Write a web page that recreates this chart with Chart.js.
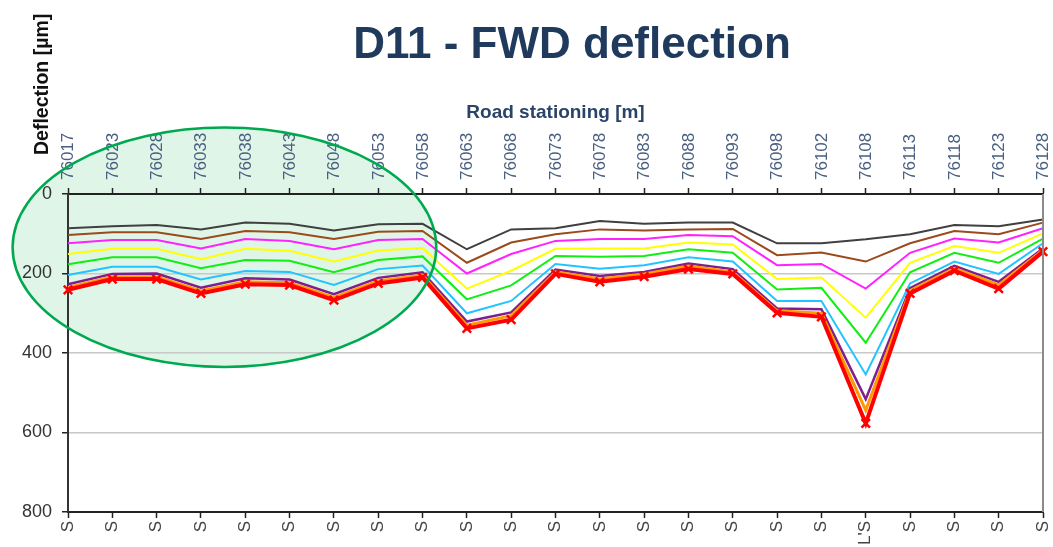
<!DOCTYPE html>
<html>
<head>
<meta charset="utf-8">
<script src="https://cdn.jsdelivr.net/npm/chart.js@4/dist/chart.umd.min.js"></script>
<style>
    body { margin: 0; background: #fff; }
    .chart-wrap { width: 1053px; height: 547px; }
</style>
</head>
<body>
<div class="chart-wrap"><canvas id="fwdChart"></canvas></div>
<script>
// stations along the road (top axis) and point type (bottom axis)
let stations = ["76017", "76023", "76028", "76033", "76038", "76043", "76048", "76053", "76058", "76063", "76068",
    "76073", "76078", "76083", "76088", "76093", "76098", "76102", "76108", "76113", "76118", "76123", "76128"]
let pointTypes = ["S", "S", "S", "S", "S", "S", "S", "S", "S", "S", "S",
    "S", "S", "S", "S", "S", "S", "S", "L'S", "S", "S", "S", "S"]
let yTicks = [0, 200, 400, 600, 800]

// deflection per sensor [µm]
let greyLine = [86, 81, 78, 89, 72, 75, 92, 76, 75, 139, 89, 86, 68, 75, 72, 72, 124, 124, 114, 101, 78, 81, 64]
let brownLine = [103, 96, 96, 113, 93, 96, 113, 95, 93, 173, 122, 101, 89, 92, 89, 88, 154, 147, 170, 124, 93, 101, 72]
let magentaLine = [124, 116, 116, 137, 113, 118, 139, 116, 113, 200, 151, 118, 113, 113, 103, 106, 179, 176, 238, 148, 112, 122, 86]
let yellowLine = [151, 138, 138, 164, 138, 143, 170, 142, 136, 238, 193, 138, 137, 137, 122, 127, 214, 210, 311, 173, 131, 148, 99]
let greenLine = [177, 159, 159, 187, 166, 168, 197, 166, 157, 265, 230, 156, 158, 156, 139, 148, 240, 236, 374, 197, 148, 173, 112]
let cyanLine = [204, 183, 183, 215, 194, 196, 229, 189, 180, 300, 269, 176, 188, 179, 159, 170, 269, 269, 454, 225, 170, 201, 124]
let purpleLine = [227, 201, 200, 236, 212, 215, 252, 211, 197, 321, 298, 190, 206, 196, 175, 189, 288, 290, 516, 237, 181, 221, 137]
let orangeLine = [235, 208, 208, 244, 221, 223, 260, 219, 204, 330, 306, 196, 214, 201, 181, 196, 294, 300, 544, 243, 187, 229, 141]
let redLine = [241, 214, 214, 250, 227, 229, 267, 225, 210, 338, 316, 201, 221, 208, 189, 201, 299, 309, 577, 250, 193, 238, 145]

// green highlight ellipse, in axis units (category index / µm)
let highlight = { centerIndex: 3.53, centerValue: 134, halfWidth: 4.78, halfHeight: 301 }

let series = [
    { data: greyLine, color: '#404040', width: 2 },
    { data: brownLine, color: '#9a4a1c', width: 2 },
    { data: magentaLine, color: '#ff22ff', width: 2 },
    { data: yellowLine, color: '#ffff00', width: 2 },
    { data: greenLine, color: '#11ee11', width: 2 },
    { data: cyanLine, color: '#22c4ff', width: 2 },
    { data: purpleLine, color: '#7f1f8f', width: 2.5 },
    { data: orangeLine, color: '#ff9900', width: 3 },
    { data: redLine, color: '#ff0000', width: 4, marks: true }
]

let font = "'Liberation Sans', Arial, sans-serif"

let ellipseAt = (chart) => {
    let x = chart.scales.x
    let y = chart.scales.y
    let step = x.getPixelForValue(1) - x.getPixelForValue(0)
    return {
        cx: x.getPixelForValue(highlight.centerIndex),
        cy: y.getPixelForValue(highlight.centerValue),
        rx: highlight.halfWidth * step,
        ry: y.getPixelForValue(highlight.halfHeight) - y.getPixelForValue(0)
    }
}

let decor = {
    id: 'decor',
    beforeDraw(chart) {
        let ctx = chart.ctx
        let e = ellipseAt(chart)
        ctx.save()
        ctx.beginPath()
        ctx.ellipse(e.cx, e.cy, e.rx, e.ry, 0, 0, Math.PI * 2)
        ctx.fillStyle = 'rgba(0, 176, 80, 0.13)'
        ctx.fill()
        ctx.restore()
    },
    afterDraw(chart) {
        let ctx = chart.ctx
        let area = chart.chartArea
        let e = ellipseAt(chart)
        ctx.save()
        ctx.beginPath()
        ctx.ellipse(e.cx, e.cy, e.rx, e.ry, 0, 0, Math.PI * 2)
        ctx.strokeStyle = '#00a94f'
        ctx.lineWidth = 2.5
        ctx.stroke()

        // right frame line
        ctx.beginPath()
        ctx.moveTo(area.right, area.top)
        ctx.lineTo(area.right, area.bottom)
        ctx.strokeStyle = '#8a8a8a'
        ctx.lineWidth = 2
        ctx.stroke()

        // main title
        ctx.fillStyle = '#1f3a5c'
        ctx.font = 'bold 44px ' + font
        ctx.textAlign = 'center'
        ctx.textBaseline = 'middle'
        ctx.fillText('D11 - FWD deflection', 572, 46)

        // y axis title, top left corner
        ctx.translate(43, 155)
        ctx.rotate(-Math.PI / 2)
        ctx.fillStyle = '#111'
        ctx.font = 'bold 19.5px ' + font
        ctx.textAlign = 'left'
        ctx.fillText('Deflection [µm]', 0, 0)
        ctx.restore()
    }
}

let noSidePadding = (s) => {
    s.paddingLeft = 0
    s.paddingRight = 0
}

new Chart('fwdChart', {
    type: 'line',
    data: {
        labels: stations,
        datasets: series.map((s, i) => ({
            data: s.data,
            borderColor: s.color,
            backgroundColor: s.color,
            borderWidth: s.width,
            tension: 0,
            fill: false,
            order: series.length - i,
            pointRadius: s.marks ? 6 : 0,
            pointStyle: 'crossRot',
            pointBorderWidth: 2.5,
            pointBorderColor: s.color
        }))
    },
    options: {
        responsive: true,
        maintainAspectRatio: false,
        animation: false,
        layout: { padding: { top: 70, right: 10, left: 0, bottom: 0 } },
        plugins: {
            legend: { display: false },
            tooltip: { enabled: false },
            title: { display: false }
        },
        scales: {
            x: {
                type: 'category',
                position: 'top',
                offset: false,
                afterFit: (s) => { s.height = 124; noSidePadding(s) },
                title: {
                    display: true,
                    text: 'Road stationing [m]',
                    color: '#2a4468',
                    font: { family: font, size: 19, weight: 'bold' },
                    padding: { top: 31, bottom: 0 }
                },
                ticks: {
                    autoSkip: false,
                    minRotation: 90,
                    maxRotation: 90,
                    padding: 8,
                    labelOffset: 21,
                    color: '#4a6080',
                    font: { family: font, size: 17 }
                },
                grid: { drawOnChartArea: false, tickLength: 6, tickColor: '#222', tickWidth: 1.5 },
                border: { color: '#222', width: 2 }
            },
            x2: {
                type: 'category',
                position: 'bottom',
                labels: pointTypes,
                offset: false,
                afterFit: (s) => { s.height = 35; noSidePadding(s) },
                ticks: {
                    autoSkip: false,
                    minRotation: 90,
                    maxRotation: 90,
                    padding: 3,
                    color: '#444',
                    font: { family: font, size: 17 }
                },
                grid: { drawOnChartArea: false, tickLength: 6, tickColor: '#222', tickWidth: 1.5 },
                border: { color: '#222', width: 2 }
            },
            y: {
                reverse: true,
                min: yTicks[0],
                max: yTicks[yTicks.length - 1],
                afterFit: (s) => { s.width = 68 },
                afterBuildTicks: (s) => { s.ticks = yTicks.map(v => ({ value: v })) },
                ticks: {
                    padding: 10,
                    color: '#333',
                    font: { family: font, size: 18 }
                },
                grid: { color: '#c8c8c8', lineWidth: 1.5, tickLength: 6, tickColor: '#222', tickWidth: 1.5 },
                border: { color: '#333', width: 2 }
            }
        }
    },
    plugins: [decor]
})
</script>
</body>
</html>
